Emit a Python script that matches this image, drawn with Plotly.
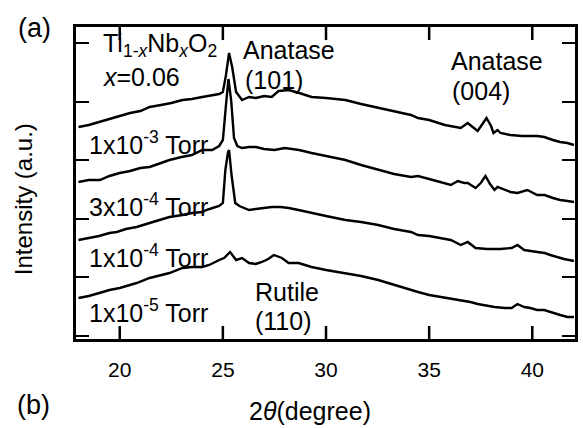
import plotly.graph_objects as go

# 2θ scans (degree) and stacked intensities (a.u.) for Ti(1-x)Nb(x)O2, x = 0.06
two_theta_1e3 = [18.0, 18.5, 19.0, 19.5, 20.0, 20.5, 21.0, 21.45, 22.0, 22.5, 23.04, 23.5, 24.0,
                 24.48, 24.82, 25.0, 25.15, 25.30, 25.45, 25.64, 25.8, 25.93, 26.27, 26.6, 27.0,
                 27.37, 27.7, 28.2, 28.7, 29.3, 30.0, 30.94, 31.7, 32.53, 33.3, 34.12, 34.46, 35.0,
                 35.76, 36.3, 36.53, 36.87, 37.1, 37.35, 37.55, 37.78, 38.0, 38.12, 38.31, 38.46,
                 38.94, 39.5, 40.24, 40.58, 41.0, 41.35, 41.7, 42.02]
intensity_1e3 = [212, 214, 217, 220, 223, 226, 228, 232, 234, 236, 239, 240, 242,
                 244, 245, 247, 264, 286, 272, 247, 242, 239, 242, 241, 243,
                 242, 248, 249, 246, 242, 241, 239, 235, 231, 228, 224, 221, 219,
                 214, 212, 211, 216, 212, 208, 214, 221, 213, 206, 209, 206,
                 204, 203, 203, 202, 199, 197, 196, 194]

two_theta_3e4 = [18.0, 18.5, 19.04, 19.5, 20.0, 20.5, 21.0, 21.45, 22.0, 22.41, 23.0, 23.5, 24.0,
                 24.48, 24.82, 25.0, 25.15, 25.27, 25.40, 25.54, 25.70, 25.93, 26.27, 26.6, 27.0,
                 27.5, 28.0, 28.7, 29.3, 30.0, 30.94, 31.7, 32.53, 33.3, 34.12, 34.46, 35.0, 35.57,
                 36.05, 36.39, 36.7, 36.87, 37.25, 37.5, 37.73, 37.95, 38.17, 38.31, 38.65, 38.94,
                 39.28, 39.61, 39.76, 40.24, 40.6, 41.0, 41.35, 41.7, 42.02]
intensity_3e4 = [157, 159, 159, 163, 166, 168, 171, 172, 176, 179, 182, 184, 189,
                 189, 193, 199, 234, 260, 239, 201, 193, 191, 192, 192, 190,
                 189, 191, 189, 186, 183, 179, 174, 169, 165, 162, 163, 160, 157,
                 154, 158, 156, 156, 151, 156, 163, 155, 149, 152, 149, 147,
                 146, 148, 149, 144, 144, 141, 139, 138, 137]

two_theta_1e4 = [18.0, 18.5, 19.0, 19.5, 19.86, 20.3, 20.82, 21.45, 22.0, 22.41, 23.04, 23.5, 24.0,
                 24.19, 24.5, 24.82, 25.0, 25.12, 25.25, 25.30, 25.42, 25.6, 25.8, 26.27, 26.6,
                 27.08, 27.37, 27.8, 28.19, 28.67, 29.3, 30.0, 30.94, 31.7, 32.53, 33.3, 34.12,
                 34.46, 35.0, 35.57, 36.05, 36.53, 36.87, 37.25, 37.8, 38.46, 39.0, 39.28, 39.61,
                 40.24, 40.6, 40.87, 41.2, 41.54, 42.02]
intensity_1e4 = [99, 101, 103, 106, 107, 110, 112, 116, 119, 122, 124, 126, 127,
                 129, 131, 133, 136, 169, 187, 189, 164, 136, 133, 129, 130,
                 131, 132, 132, 131, 129, 126, 123, 119, 117, 114, 110, 107,
                 104, 103, 101, 99, 94, 97, 91, 90, 90, 91, 94, 89,
                 87, 86, 84, 82, 80, 78]

two_theta_1e5 = [18.0, 18.5, 19.18, 19.5, 20.0, 20.82, 21.45, 22.0, 22.41, 23.04, 23.5, 24.0, 24.34,
                 24.82, 25.06, 25.35, 25.64, 25.93, 26.27, 26.6, 26.89, 27.2, 27.47, 27.86, 28.19,
                 28.67, 29.3, 30.0, 30.94, 31.7, 32.53, 33.3, 34.12, 34.46, 35.0, 35.57, 36.05,
                 36.5, 37.0, 37.35, 37.8, 38.17, 38.65, 39.0, 39.28, 39.61, 39.9, 40.24, 40.58,
                 41.0, 41.35, 41.7, 42.02]
intensity_1e5 = [41, 43, 47, 49, 51, 56, 61, 64, 66, 71, 72, 72, 74,
                 79, 81, 87, 79, 81, 76, 75, 77, 80, 84, 81, 76,
                 76, 72, 69, 66, 63, 59, 54, 49, 47, 44, 42, 41,
                 39, 37, 35, 33, 32, 31, 31, 35, 32, 31, 29, 29,
                 26, 24, 22, 22]

series = [
    ("1x10<sup>-3</sup> Torr", two_theta_1e3, intensity_1e3),
    ("3x10<sup>-4</sup> Torr", two_theta_3e4, intensity_3e4),
    ("1x10<sup>-4</sup> Torr", two_theta_1e4, intensity_1e4),
    ("1x10<sup>-5</sup> Torr", two_theta_1e5, intensity_1e5),
]

x_ticks = [20, 25, 30, 35, 40]
y_ticks = [3, 61.6, 120.2, 178.8, 237.4, 296]
x_range = [17.88, 42.07]
y_range = [0, 312]

FONT = "Liberation Sans, Arial, sans-serif"
ANN_SIZE = 25
TICK_LEN = 13  # in intensity units; the y scale is ~1 unit per pixel

fig = go.Figure()
for name, tt, inten in series:
    fig.add_trace(go.Scatter(x=tt, y=inten, mode="lines", name=name,
                             line=dict(color="black", width=2.4), showlegend=False))

# inward x tick marks on the bottom and top frame edges, at the tick values
tick_shapes = []
for v in x_ticks:
    tick_shapes.append(dict(type="line", xref="x", yref="y", x0=v, x1=v,
                            y0=y_range[0], y1=y_range[0] + TICK_LEN,
                            line=dict(color="black", width=2.5), layer="above"))
    tick_shapes.append(dict(type="line", xref="x", yref="y", x0=v, x1=v,
                            y0=y_range[1] - TICK_LEN, y1=y_range[1],
                            line=dict(color="black", width=2.5), layer="above"))

# pressure labels just below the left end of each scan
label_y = [196.5, 134.5, 83.5, 28.5]
ann = []
for (name, _, _), yy in zip(series, label_y):
    ann.append(dict(x=18.42, y=yy, xref="x", yref="y", text=name, showarrow=False,
                    xanchor="left", yanchor="middle", font=dict(size=ANN_SIZE)))

peak_labels = [
    (19.1, 294.0, "Ti<sub>1-<i>x</i></sub>Nb<sub><i>x</i></sub>O<sub>2</sub>"),
    (19.1, 262.5, "<i>x</i>=0.06"),
    (25.9, 289.5, "Anatase"),
    (25.98, 259.5, "(101)"),
    (35.98, 278.0, "Anatase"),
    (36.02, 248.5, "(004)"),
    (26.45, 47.5, "Rutile"),
    (26.45, 18.5, "(110)"),
]
for xx, yy, txt in peak_labels:
    ann.append(dict(x=xx, y=yy, xref="x", yref="y", text=txt, showarrow=False,
                    xanchor="left", yanchor="middle", font=dict(size=ANN_SIZE)))

# axis titles and panel letters
ann.append(dict(x=0.468, y=-0.231, xref="paper", yref="paper", text="2<i>θ</i>(degree)",
                showarrow=False, xanchor="center", yanchor="middle", font=dict(size=25)))
ann.append(dict(x=-0.1036, y=0.449, xref="paper", yref="paper", text="Intensity (a.u.)",
                showarrow=False, xanchor="center", yanchor="middle", textangle=-90,
                font=dict(size=24)))
ann.append(dict(x=-0.084, y=0.997, xref="paper", yref="paper", text="(a)",
                showarrow=False, xanchor="center", yanchor="middle", font=dict(size=27)))
ann.append(dict(x=-0.086, y=-0.212, xref="paper", yref="paper", text="(b)",
                showarrow=False, xanchor="center", yanchor="middle", font=dict(size=27)))

fig.update_layout(
    width=583, height=428,
    margin=dict(l=76, r=5, t=27, b=89),
    paper_bgcolor="white", plot_bgcolor="white",
    font=dict(family=FONT, color="black", size=21),
    xaxis=dict(range=x_range, tickmode="array", tickvals=x_ticks,
               ticks="inside", ticklen=13, tickwidth=2, tickcolor="black",
               showline=True, linecolor="black", linewidth=2.5, mirror="ticks",
               showgrid=False, zeroline=False, tickfont=dict(size=21),
               ticklabelstandoff=10),
    yaxis=dict(range=y_range, tickmode="array", tickvals=y_ticks, showticklabels=False,
               ticks="inside", ticklen=13, tickwidth=2, tickcolor="black",
               showline=True, linecolor="black", linewidth=2.5, mirror="ticks",
               showgrid=False, zeroline=False),
    shapes=tick_shapes,
    annotations=ann,
)

fig.write_html("out.html")
